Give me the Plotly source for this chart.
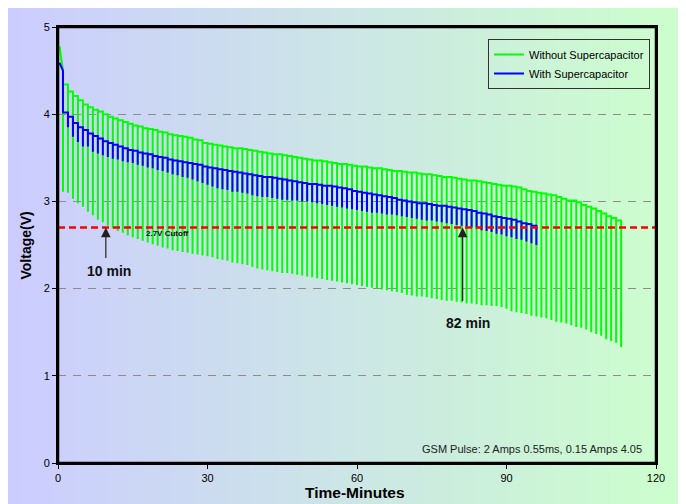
import plotly.graph_objects as go

# ---------------- data ----------------
green_minutes = [0.3] + list(range(1, 114))
green_top = [4.78, 4.50, 4.34, 4.26, 4.21, 4.16, 4.11, 4.08, 4.05, 4.03,
             4.00, 3.97, 3.95, 3.93, 3.91, 3.89, 3.87, 3.86, 3.84, 3.83,
             3.82, 3.80, 3.79, 3.77, 3.76, 3.75, 3.74, 3.73, 3.71, 3.70,
             3.67,
             3.66, 3.65, 3.64, 3.63, 3.62, 3.61, 3.61, 3.60, 3.59, 3.58,
             3.57, 3.56, 3.55, 3.54, 3.54, 3.53, 3.52, 3.51, 3.50, 3.49,
             3.48, 3.47, 3.47, 3.46, 3.45, 3.44, 3.43, 3.43, 3.42, 3.41,
             3.40, 3.40, 3.39, 3.38, 3.38, 3.37, 3.36, 3.35, 3.35, 3.34,
             3.33, 3.33, 3.32, 3.31, 3.31, 3.30, 3.29, 3.28, 3.28, 3.27,
             3.26, 3.25, 3.24, 3.24, 3.23, 3.22, 3.21, 3.20, 3.19, 3.18,
             3.18, 3.17, 3.16, 3.14, 3.12, 3.11, 3.10, 3.09, 3.08, 3.07,
             3.05, 3.03, 3.01, 3.01, 2.99, 2.96, 2.94, 2.92, 2.89, 2.86,
             2.83, 2.81, 2.78]
green_bot = [None,
             3.11, 3.10, 3.03, 2.98, 2.94, 2.88, 2.84, 2.79, 2.76, 2.72,
             2.69, 2.66, 2.64, 2.61, 2.59, 2.57, 2.55, 2.53, 2.51, 2.49,
             2.47, 2.46, 2.44, 2.43, 2.42, 2.41, 2.40, 2.39, 2.38, 2.37,
             2.36, 2.34, 2.33, 2.32, 2.30, 2.29, 2.28, 2.27, 2.25, 2.23,
             2.22, 2.21, 2.20, 2.19, 2.18, 2.18, 2.17, 2.16, 2.15, 2.14,
             2.13, 2.12, 2.11, 2.10, 2.09, 2.08, 2.07, 2.06, 2.05, 2.04,
             2.03, 2.02, 2.01, 2.00, 1.99, 1.98, 1.97, 1.96, 1.95, 1.93,
             1.92, 1.91, 1.91, 1.90, 1.89, 1.88, 1.87, 1.86, 1.86, 1.85,
             1.84, 1.83, 1.83, 1.82, 1.81, 1.81, 1.80, 1.80, 1.79, 1.77,
             1.74, 1.73, 1.72, 1.71, 1.69, 1.68, 1.67, 1.66, 1.64, 1.62,
             1.61, 1.60, 1.58, 1.56, 1.55, 1.53, 1.50, 1.48, 1.46, 1.42,
             1.40, 1.38, 1.33]

blue_minutes = [0.3] + list(range(1, 97))
blue_top = [4.59, 4.50, 4.02, 3.97, 3.90, 3.85, 3.82, 3.78, 3.75, 3.72,
            3.69,
            3.67, 3.65, 3.63, 3.61, 3.59, 3.58, 3.56, 3.55, 3.54, 3.52,
            3.51, 3.50, 3.48, 3.47, 3.46, 3.45, 3.44, 3.43, 3.42, 3.40,
            3.39, 3.38, 3.37, 3.36, 3.35, 3.34, 3.33, 3.32, 3.31, 3.30,
            3.29, 3.28, 3.28, 3.27, 3.26, 3.25, 3.24, 3.23, 3.22, 3.21,
            3.20, 3.20, 3.19, 3.18, 3.18, 3.17, 3.16, 3.15, 3.14, 3.12,
            3.11, 3.10, 3.09, 3.08, 3.07, 3.06, 3.05, 3.04, 3.02, 3.01,
            3.00, 2.99, 2.98, 2.98, 2.97, 2.96, 2.95, 2.95, 2.94, 2.93,
            2.92, 2.91, 2.90, 2.89, 2.87, 2.86, 2.85, 2.83, 2.82, 2.81,
            2.80, 2.79, 2.77, 2.75, 2.74, 2.72]
blue_bot = [None,
            4.02, 3.85, 3.74, 3.68, 3.63, 3.63, 3.57, 3.55, 3.53, 3.51,
            3.49, 3.48, 3.46, 3.45, 3.44, 3.42, 3.41, 3.39, 3.38, 3.36,
            3.35, 3.33, 3.31, 3.30, 3.28, 3.27, 3.25, 3.23, 3.21, 3.19,
            3.17, 3.15, 3.14, 3.13, 3.11, 3.11, 3.10, 3.09, 3.07, 3.06,
            3.05, 3.05, 3.04, 3.03, 3.02, 3.02, 3.01, 3.01, 3.00, 3.00,
            2.99, 2.98, 2.97, 2.96, 2.95, 2.94, 2.93, 2.92, 2.91, 2.90,
            2.89, 2.88, 2.87, 2.87, 2.86, 2.85, 2.85, 2.84, 2.83, 2.82,
            2.81, 2.80, 2.79, 2.78, 2.78, 2.77, 2.76, 2.75, 2.74, 2.73,
            2.72, 2.71, 2.70, 2.69, 2.67, 2.66, 2.65, 2.63, 2.62, 2.60,
            2.59, 2.57, 2.56, 2.54, 2.52, 2.50]

series_names = ["Without Supercapacitor", "With Supercapacitor"]
cutoff_voltage = 2.7
marker_10 = 9.6
marker_82 = 81.2
x_ticks = [0, 30, 60, 90, 120]
y_ticks = [0, 1, 2, 3, 4, 5]

# ---------------- layout constants (page pixels) ----------------
PAGE_W, PAGE_H = 686, 504
BODY = 8                      # default page body margin
W, H = PAGE_W - BODY, PAGE_H - BODY
PL, PR, PT, PB = 58, 656, 27, 463   # plot area on the page
ML, MT = PL - BODY, PT - BODY
MR, MB = BODY + W - PR, BODY + H - PB
PW, PH = PR - PL, PB - PT
FONT = "Liberation Sans, Arial, sans-serif"


def pulse_path(t, top, bot):
    xs, ys = [], []
    n = len(t)
    for i in range(n):
        xs.append(t[i]); ys.append(top[i])
        if bot[i] is not None:
            xs.append(t[i]); ys.append(bot[i])
            nxt = top[i + 1] if i + 1 < n else top[i]
            xs.append(t[i]); ys.append(nxt)
    return xs, ys


def px_x(px):
    return (px - PL) / PW


def px_y(py):
    return (PB - py) / PH


gx, gy = pulse_path(green_minutes, green_top, green_bot)
bx, by = pulse_path(blue_minutes, blue_top, blue_bot)

fig = go.Figure()
fig.add_trace(go.Scatter(x=gx, y=gy, mode="lines", name=series_names[0],
                         line=dict(color="#00ff00", width=2)))
fig.add_trace(go.Scatter(x=bx, y=by, mode="lines", name=series_names[1],
                         line=dict(color="#0000ff", width=2)))

# background gradient (lavender -> light green) across the figure
shapes = []
N = 90
gx0, gx1 = 4, PAGE_W
y0p, y1p = px_y(PAGE_H + 2), px_y(BODY - 1)
for i in range(N):
    a = BODY + (PAGE_W - BODY) * i / N
    b = BODY + (PAGE_W - BODY) * (i + 1) / N + 0.8
    f = ((a + b) / 2 - gx0) / (gx1 - gx0)
    c = "rgb(204,%d,%d)" % (round(204 + 51 * f), round(255 - 51 * f))
    shapes.append(dict(type="rect", xref="paper", yref="paper",
                       x0=px_x(a - 1 if i == 0 else a), x1=px_x(b),
                       y0=y0p, y1=y1p,
                       fillcolor=c, line=dict(width=0), layer="below"))

# cutoff line
shapes.append(dict(type="line", xref="x", yref="y", x0=0, x1=120,
                   y0=cutoff_voltage, y1=cutoff_voltage,
                   line=dict(color="#ff0000", width=2.5, dash="7px,4px"),
                   layer="above"))
# plot frame (four sides)
for (x0, y0, x1, y1) in [(0, 0, 1, 0), (0, 1, 1, 1), (0, 0, 0, 1), (1, 0, 1, 1)]:
    shapes.append(dict(type="line", xref="paper", yref="paper",
                       x0=x0, y0=y0, x1=x1, y1=y1,
                       line=dict(color="#000000", width=2.5), layer="above"))

annotations = [
    dict(x=21.9, y=2.63, xref="x", yref="y", text="<b>2.7V Cutoff</b>",
         showarrow=False, font=dict(family=FONT, size=8, color="#111")),
    dict(x=marker_10, y=cutoff_voltage, xref="x", yref="y", text="",
         showarrow=True, ax=0, ay=32, arrowhead=2, arrowsize=1.6,
         arrowwidth=1.2, arrowcolor="#222"),
    dict(x=marker_10 + 0.7, y=2.20, xref="x", yref="y", text="<b>10 min</b>",
         showarrow=False, font=dict(family=FONT, size=14, color="#111"),
         yanchor="middle"),
    dict(x=marker_82, y=cutoff_voltage, xref="x", yref="y", text="",
         showarrow=True, ax=0, ay=75, arrowhead=2, arrowsize=1.6,
         arrowwidth=1.2, arrowcolor="#222"),
    dict(x=marker_82 + 1.1, y=1.60, xref="x", yref="y", text="<b>82 min</b>",
         showarrow=False, font=dict(family=FONT, size=14, color="#111"),
         yanchor="middle"),
    dict(x=117.5, y=0.16, xref="x", yref="y",
         text="GSM Pulse: 2 Amps 0.55ms, 0.15 Amps 4.05",
         showarrow=False, xanchor="right", yanchor="middle",
         font=dict(family=FONT, size=11, color="#222")),
    dict(x=px_x(354.5), y=px_y(492.5), xref="paper", yref="paper",
         text="<b>Time-Minutes</b>", showarrow=False,
         xanchor="center", yanchor="middle",
         font=dict(family=FONT, size=15.5, color="#000")),
    dict(x=px_x(25.5), y=px_y(246), xref="paper", yref="paper",
         text="<b>Voltage(V)</b>", showarrow=False, textangle=-90,
         xanchor="center", yanchor="middle",
         font=dict(family=FONT, size=14, color="#000")),
]

fig.update_layout(
    template="none",
    width=W, height=H,
    margin=dict(l=ML, r=MR, t=MT, b=MB, pad=0, autoexpand=False),
    paper_bgcolor="white",
    plot_bgcolor="rgba(0,0,0,0)",
    font=dict(family=FONT, size=11, color="#000"),
    shapes=shapes,
    annotations=annotations,
    showlegend=True,
    legend=dict(x=px_x(650), xanchor="right",
                y=px_y(39), yanchor="top",
                bgcolor="rgba(0,0,0,0)", bordercolor="#333", borderwidth=1,
                font=dict(family=FONT, size=11, color="#000"),
                itemwidth=30, tracegroupgap=0),
    xaxis=dict(range=[0, 120], tickvals=x_ticks, showgrid=False,
               zeroline=False, showline=True, mirror=True, linecolor="#000",
               linewidth=2, automargin=False,
               ticks="outside", ticklen=4, tickwidth=1, tickcolor="#000",
               tickfont=dict(family=FONT, size=11, color="#000")),
    yaxis=dict(range=[0, 5], tickvals=y_ticks, showgrid=True,
               gridcolor="#8c8c8c", gridwidth=1.2, griddash="8px,7px",
               zeroline=False, showline=True, mirror=True, linecolor="#000",
               linewidth=2, automargin=False,
               ticks="outside", ticklen=4, tickwidth=1, tickcolor="#000",
               tickfont=dict(family=FONT, size=11, color="#000")),
)

fig.write_html("out.html")
